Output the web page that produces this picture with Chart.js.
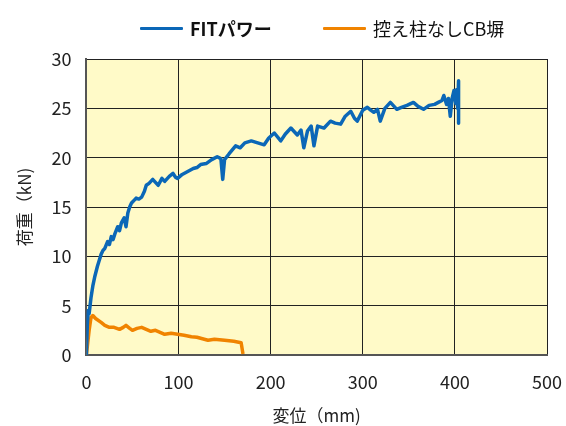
<!DOCTYPE html>
<html>
<head>
<meta charset="utf-8">
<script src="https://cdn.jsdelivr.net/npm/chart.js@4"></script>
<style>
  html, body { margin: 0; padding: 0; background: #fff; }
  #wrap { position: relative; width: 566px; height: 426px; }
  #legend {
    position: absolute; top: 16px; left: 0; width: 566px; height: 24px;
    font-family: "Noto Sans CJK JP", "Noto Sans", sans-serif; font-size: 18px; color: #111;
  }
  .item { position: absolute; top: 0; display: flex; align-items: center; height: 24px; }
  .swatch { display: inline-block; width: 43px; height: 3px; margin-right: 7px; border-radius: 1px; }
</style>
</head>
<body>
<div id="wrap">
  <canvas id="chart" width="566" height="426"></canvas>
  <div id="legend"></div>
</div>
<script>
const seriesNames = ['FITパワー', '控え柱なしCB塀'];
const seriesColors = ['#0b67b7', '#f08300'];

// FITパワー: 変位 (mm) / 荷重 (kN)
const fitX = [0, 1, 2, 3, 5, 7, 9, 12, 14, 16, 18, 20, 23, 25, 27, 29, 31, 34, 36, 38,
  41, 43, 45, 47, 49, 52, 54, 57, 60, 63, 65, 68, 72, 75, 78, 82, 85, 90, 94, 97,
  99, 104, 110, 116, 120, 124, 130, 136, 142, 146, 148, 150, 155, 162, 167, 172, 179, 186, 193, 198,
  204, 211, 216, 222, 226, 229, 233, 236, 240, 244, 247, 251, 258, 265, 270, 276, 281, 287, 291, 294,
  300, 305, 309, 312, 316, 319, 324, 330, 334, 337, 342, 348, 355, 360, 366, 372, 378, 382, 386, 388,
  391, 393, 395, 397, 399, 401, 402, 403, 404, 404];
const fitY = [0, 3.0, 4.5, 4.2, 5.8, 7.0, 7.9, 9.0, 9.6, 10.2, 10.6, 10.8, 11.5, 11.2, 12.0, 11.7, 12.3, 13.0, 12.6, 13.4,
  13.9, 13.0, 14.4, 15.0, 15.4, 15.7, 15.9, 15.8, 16.0, 16.6, 17.2, 17.4, 17.8, 17.5, 17.2, 17.9, 17.6, 18.1, 18.4, 18.0,
  17.9, 18.3, 18.6, 18.9, 19.0, 19.3, 19.4, 19.8, 20.1, 19.9, 17.8, 19.8, 20.4, 21.2, 21.0, 21.5, 21.7, 21.5, 21.3, 22.0,
  22.5, 21.7, 22.4, 23.0, 22.6, 22.3, 22.8, 21.0, 22.7, 23.2, 21.2, 23.2, 23.0, 23.7, 23.5, 23.4, 24.2, 24.7, 24.0, 23.7,
  24.8, 25.1, 24.8, 24.6, 24.9, 23.7, 25.0, 25.6, 25.2, 24.9, 25.1, 25.3, 25.6, 25.2, 24.9, 25.3, 25.4, 25.6, 25.8, 26.3,
  25.4, 26.0, 24.2, 26.0, 26.8, 25.5, 26.9, 25.0, 27.8, 23.5];

// 控え柱なしCB塀
const cbX = [0, 3, 5, 7, 10, 16, 20, 25, 30, 36, 40, 43, 47, 50, 55, 60, 65, 70, 75, 80,
  85, 92, 99, 106, 114, 120, 126, 132, 139, 150, 160, 168, 170];
const cbY = [0, 2.5, 3.8, 4.0, 3.7, 3.3, 3.0, 2.8, 2.8, 2.6, 2.8, 3.0, 2.7, 2.5, 2.7, 2.8, 2.6, 2.4, 2.5, 2.3,
  2.1, 2.2, 2.1, 2.0, 1.85, 1.8, 1.65, 1.5, 1.6, 1.5, 1.4, 1.25, 0.1];

const xTicks = [0, 100, 200, 300, 400, 500];
const yTicks = [0, 5, 10, 15, 20, 25, 30];
const xTitle = '変位（mm)';
const yTitle = '荷重（kN)';

const FONT = '"Noto Sans CJK JP", "Noto Sans", sans-serif';

const legendEl = document.getElementById('legend');
const legendLeft = [140, 323];
seriesNames.forEach((name, i) => {
  const item = document.createElement('div');
  item.className = 'item';
  item.style.left = legendLeft[i] + 'px';
  item.innerHTML = '<span class="swatch" style="background:' + seriesColors[i] + '"></span>' +
    '<span style="font-weight:' + (i === 0 ? 'bold' : 'normal') + '">' + name + '</span>';
  legendEl.appendChild(item);
});

const plotBg = {
  id: 'plotBg',
  beforeDraw(chart) {
    const { ctx, chartArea: a } = chart;
    ctx.save();
    ctx.fillStyle = '#fffac8';
    ctx.fillRect(a.left, a.top, a.right - a.left, a.bottom - a.top);
    ctx.restore();
  }
};

function pts(xs, ys) {
  return xs.map((x, i) => ({ x: x, y: ys[i] }));
}

new Chart(document.getElementById('chart'), {
  type: 'line',
  data: {
    datasets: [
      { label: seriesNames[0], data: pts(fitX, fitY), borderColor: seriesColors[0], borderWidth: 3.5,
        pointRadius: 0, fill: false, tension: 0, borderJoinStyle: 'round' },
      { label: seriesNames[1], data: pts(cbX, cbY), borderColor: seriesColors[1], borderWidth: 3.5,
        pointRadius: 0, fill: false, tension: 0, borderJoinStyle: 'round' }
    ]
  },
  options: {
    responsive: false,
    animation: false,
    layout: { padding: { top: 59, right: 19, left: 10, bottom: 0 } },
    plugins: { legend: { display: false }, tooltip: { enabled: false } },
    scales: {
      x: {
        type: 'linear', min: 0, max: 500,
        afterBuildTicks: s => { s.ticks = xTicks.map(v => ({ value: v })); },
        afterFit: s => { s.paddingRight = 0; s.paddingLeft = 0; },
        ticks: { color: '#222', font: { family: FONT, size: 18 }, padding: 16 },
        grid: { color: '#222', lineWidth: 1, drawTicks: false },
        border: { color: '#555', width: 2 },
        title: { display: true, text: xTitle, color: '#222', font: { family: FONT, size: 17 }, padding: { top: -3, bottom: 0 } }
      },
      y: {
        min: 0, max: 30,
        afterBuildTicks: s => { s.ticks = yTicks.map(v => ({ value: v })); },
        ticks: { color: '#222', font: { family: FONT, size: 18 }, padding: 15 },
        grid: { color: '#222', lineWidth: 1, drawTicks: false },
        border: { color: '#555', width: 2 },
        title: { display: true, text: yTitle, color: '#222', font: { family: FONT, size: 17 }, padding: { bottom: 2 } }
      }
    }
  },
  plugins: [plotBg]
});
</script>
</body>
</html>
